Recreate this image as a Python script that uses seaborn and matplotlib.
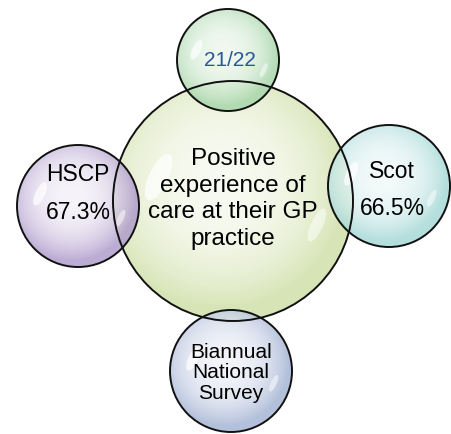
import numpy as np
import matplotlib
matplotlib.use("Agg")
import matplotlib.pyplot as plt
from matplotlib.patches import Circle, Ellipse
import seaborn as sns

# ---- data ----
center_lines = ["Positive", "experience of", "care at their GP", "practice"]
period_label = "21/22"
hscp_label = "HSCP"
hscp_value = 67.3
scot_label = "Scot"
scot_value = 66.5
source_lines = ["Biannual", "National", "Survey"]

# ---- layout (pixel coords, y down) ----
bubbles = [
    # (cx, cy, r, edge colour, centre colour)
    (233, 202, 120, "#cfdfa6", "#f6f9ee"),   # centre
    (228, 61, 51, "#a6d6a9", "#edf7ed"),     # top
    (78, 207, 61, "#ae9acb", "#f4f1f8"),     # left
    (389, 187, 61, "#a3d8d6", "#f0f9f9"),    # right
    (231, 372, 61, "#a3b3d3", "#f0f2f9"),    # bottom
]

sns.set_theme(style="white")
plt.rcParams['font.family'] = ['Liberation Sans', 'DejaVu Sans']

fig = plt.figure(figsize=(4.51, 4.35), dpi=100)
ax = fig.add_axes([0, 0, 1, 1])
ax.set_xlim(0, 451)
ax.set_ylim(435, 0)
ax.set_aspect('equal')
ax.axis('off')

def bubble(cx, cy, r, edge, inner, z):
    n = 200
    yy, xx = np.mgrid[-1:1:n * 1j, -1:1:n * 1j]
    d = np.sqrt((xx + 0.1) ** 2 + (yy + 0.15) ** 2) / 1.05
    d = np.clip(d, 0, 1)
    t = d ** 2.4
    pal = sns.blend_palette([inner, edge], n_colors=256)
    cols = np.array(pal)
    idx = (t * 255).astype(int)
    img = cols[idx]
    rgba = np.dstack([img, np.full(img.shape[:2], 0.82)])
    im = ax.imshow(rgba, extent=(cx - r, cx + r, cy + r, cy - r), zorder=z, interpolation='bilinear')
    clip = Circle((cx, cy), r, transform=ax.transData)
    im.set_clip_path(clip)
    hl = Ellipse((cx - 0.62 * r, cy - 0.2 * r), 0.16 * r, 0.42 * r, angle=25,
                 facecolor='white', alpha=0.7, edgecolor='none', zorder=z + 0.1)
    ax.add_patch(hl)
    hl2 = Ellipse((cx + 0.7 * r, cy + 0.2 * r), 0.1 * r, 0.3 * r, angle=25,
                  facecolor='white', alpha=0.5, edgecolor='none', zorder=z + 0.1)
    ax.add_patch(hl2)

for i, (cx, cy, r, edge, inner) in enumerate(bubbles):
    bubble(cx, cy, r, edge, inner, 1 + i * 0.5 if i else 1)

for (cx, cy, r, edge, inner) in bubbles:
    ax.add_patch(Circle((cx, cy), r, facecolor='none', edgecolor='#111111', lw=1.4, zorder=10))

# texts
ax.text(233, 199, "\n".join(center_lines), ha='center', va='center', fontsize=17.5,
        color='black', linespacing=1.29, zorder=20)
ax.text(230, 60, period_label, ha='center', va='center', fontsize=15, color='#2b5797', zorder=20)
ax.text(78, 193.5, f"{hscp_label}\n{hscp_value:.1f}%", ha='center', va='center', fontsize=16.5,
        color='black', linespacing=1.81, zorder=20)
ax.text(392, 190, f"{scot_label}\n{scot_value:.1f}%", ha='center', va='center', fontsize=16.5,
        color='black', linespacing=1.76, zorder=20)
ax.text(231, 373, "\n".join(source_lines), ha='center', va='center', fontsize=15,
        color='black', linespacing=1.08, zorder=20)

fig.savefig("out.png", dpi=100, facecolor='white')
